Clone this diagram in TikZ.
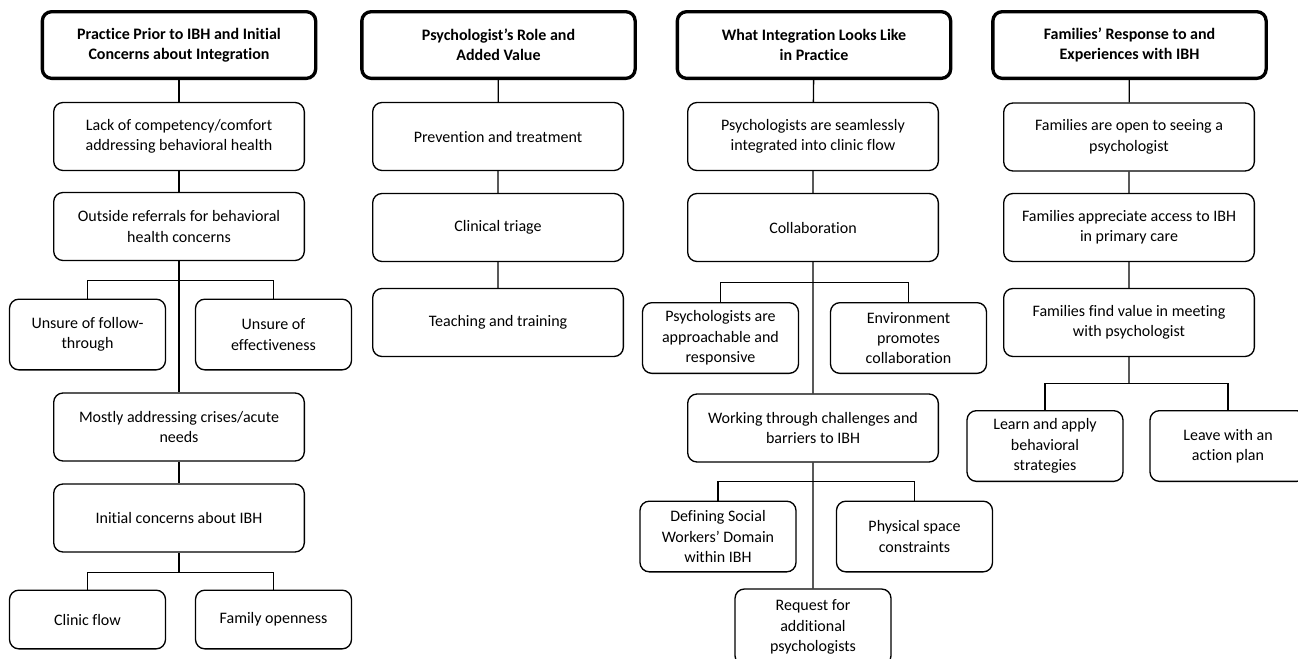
\documentclass[tikz,border=0pt]{standalone}
\usepackage{fontspec}
\setmainfont{Carlito}[Ligatures=CommonOff]
\usepackage{tikz}
\usetikzlibrary{positioning}
\tikzstyle{main} = [rectangle, rounded corners=7pt, draw=black, line width=1pt, align=center, minimum width=188pt, minimum height=51pt, inner sep=0pt, fill=white]
\tikzstyle{sub} = [main, minimum width=117pt, minimum height=53pt]
\tikzstyle{head} = [main, line width=2.5pt, minimum width=205pt, minimum height=50pt, font=\bfseries]
\tikzstyle{link} = [line width=1pt]

\begin{document}
\begin{tikzpicture}[x=0.75pt, y=-0.75pt, thick]
\fontsize{12}{15.3}\selectfont
\useasboundingbox (0,0) rectangle (1298,658);
% Column 1
\node (headPrior) [head] at (179,45) {Practice Prior to IBH and Initial\\Concerns about Integration};
\node (lackComp) [main] at (179,136.5) {Lack of competency/comfort\\addressing behavioral health};
\node (outsideRef) [main] at (179,226.5) {Outside referrals for behavioral\\health concerns};
\node (unsureFollow) [sub] at (87.5,334.5) {Unsure of follow-\\through};
\node (unsureEffect) [sub] at (273.5,334.5) {Unsure of\\effectiveness};
\node (mostlyCrises) [main] at (179,427) {Mostly addressing crises/acute\\needs};
\node (initConcerns) [main] at (179,518) {Initial concerns about IBH};
\node (clinicFlow) [sub, minimum height=44pt] at (87.5,619.5) {Clinic flow};
\node (familyOpen) [sub, minimum height=44pt] at (273.5,619.5) {Family openness};
% Column 2
\node (headRole) [head] at (498.5,45) {Psychologist’s Role and\\Added Value};
\node (prevention) [main] at (498,136.5) {Prevention and treatment};
\node (triage) [main] at (498,227.5) {Clinical triage};
\node (teaching) [main] at (498,322.5) {Teaching and training};
% Column 3
\node (headPractice) [head] at (814,45) {What Integration Looks Like\\in Practice};
\node (seamless) [main] at (813,136.5) {Psychologists are seamlessly\\integrated into clinic flow};
\node (collab) [main] at (813,227.5) {Collaboration};
\node (approach) [sub] at (720.5,338) {Psychologists are\\approachable and\\responsive};
\node (environ) [sub] at (908.5,338) {Environment\\promotes\\collaboration};
\node (working) [main] at (813,428) {Working through challenges and\\barriers to IBH};
\node (defining) [sub] at (718,536.5) {Defining Social\\Workers’ Domain\\within IBH};
\node (physical) [sub] at (914.5,536.5) {Physical space\\constraints};
\node (request) [sub, minimum height=57pt] at (813,627) {Request for\\additional\\psychologists};
% Column 4
\node (headFamilies) [head] at (1129.5,45) {Families’ Response to and\\Experiences with IBH};
\node (openSeeing) [main] at (1129,137) {Families are open to seeing a\\psychologist};
\node (appreciate) [main] at (1129,227.5) {Families appreciate access to IBH\\in primary care};
\node (findValue) [main] at (1129,322.5) {Families find value in meeting\\with psychologist};
\node (learnApply) [sub] at (1045,446) {Learn and apply\\behavioral\\strategies};
\node (actionPlan) [sub] at (1228,446) {Leave with an\\action plan};
% Junctions
\coordinate (splitA) at (179,280.5);
\coordinate (splitB) at (179,572.5);
\coordinate (splitC) at (813,282.5);
\coordinate (splitD) at (813,481.5);
\coordinate (splitE) at (1129,383.5);
% Connect nodes
\draw [link] (headPrior) -- (lackComp) -- (outsideRef) -- (mostlyCrises) -- (initConcerns);
\draw [link] (unsureFollow.north) |- (splitA) -| (unsureEffect.north);
\draw [link] (initConcerns) -- (splitB);
\draw [link] (clinicFlow.north) |- (splitB) -| (familyOpen.north);
\draw [link] (headRole) -- (prevention) -- (triage) -- (teaching);
\draw [link] (headPractice) -- (seamless) -- (collab) -- (working) -- (request);
\draw [link] (approach.north) |- (splitC) -| (environ.north);
\draw [link] (defining.north) |- (splitD) -| (physical.north);
\draw [link] (headFamilies) -- (openSeeing) -- (appreciate) -- (findValue) -- (splitE);
\draw [link] (learnApply.north) |- (splitE) -| (actionPlan.north);
\end{tikzpicture}
\end{document}
